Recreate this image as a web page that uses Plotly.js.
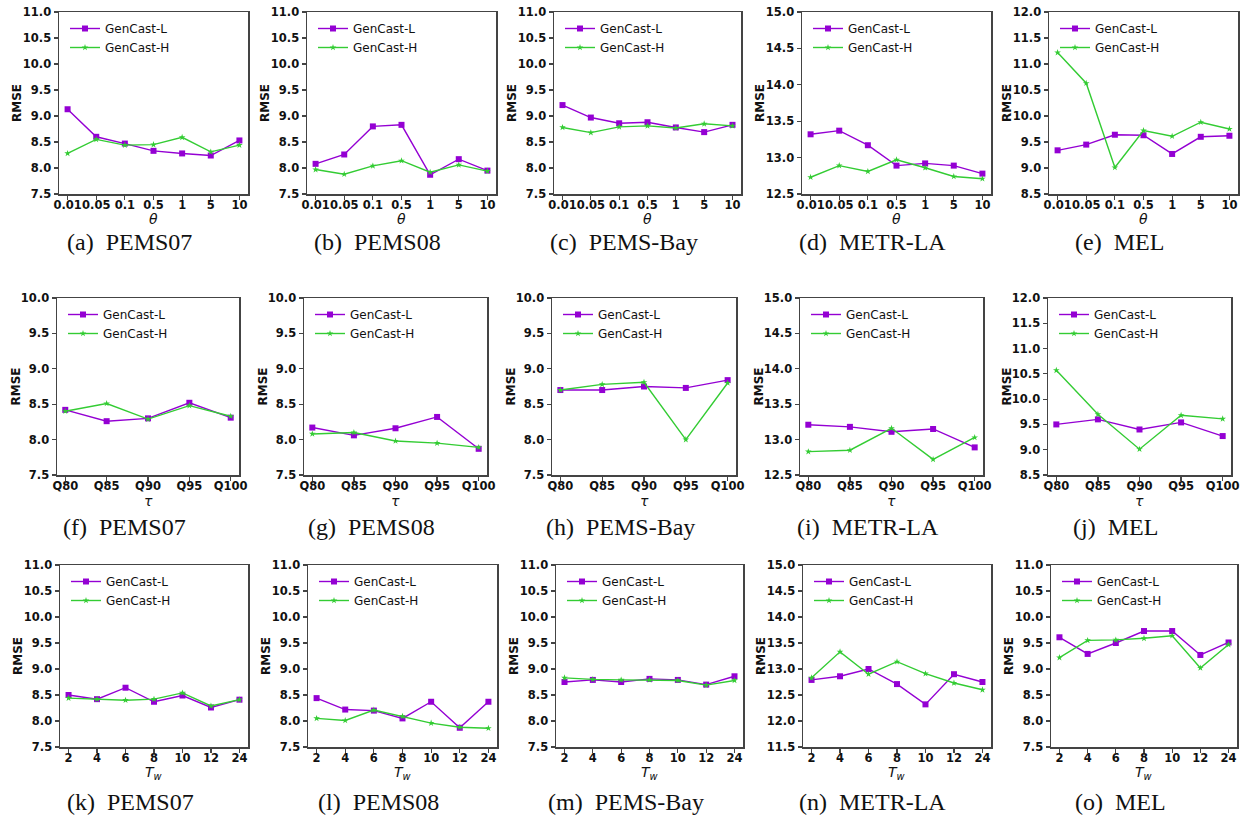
<!DOCTYPE html>
<html>
<head>
<meta charset="utf-8">
<script src="https://cdn.plot.ly/plotly-3.0.1.min.js"></script>
<style>body{margin:0;padding:0;background:#fff;} #chart{width:1246px;height:819px;}</style>
</head>
<body>
<div id="chart"></div>
<script>
// ---------- data ----------
const thetaLabels = ['0.01', '0.05', '0.1', '0.5', '1', '5', '10'];
const tauLabels = ['Q80', 'Q85', 'Q90', 'Q95', 'Q100'];
const twLabels = ['2', '4', '6', '8', '10', '12', '24'];
const datasets = ['PEMS07', 'PEMS08', 'PEMS-Bay', 'METR-LA', 'MEL'];
const seriesNames = ['GenCast-L', 'GenCast-H'];

// θ sensitivity
const thetaL_PEMS07 = [9.13, 8.60, 8.47, 8.33, 8.28, 8.24, 8.53];
const thetaH_PEMS07 = [8.28, 8.55, 8.44, 8.45, 8.59, 8.31, 8.44];
const thetaL_PEMS08 = [8.08, 8.26, 8.80, 8.83, 7.87, 8.17, 7.95];
const thetaH_PEMS08 = [7.97, 7.88, 8.04, 8.14, 7.92, 8.06, 7.94];
const thetaL_PEMSBay = [9.21, 8.97, 8.86, 8.88, 8.78, 8.69, 8.83];
const thetaH_PEMSBay = [8.78, 8.68, 8.79, 8.81, 8.77, 8.85, 8.81];
const thetaL_METRLA = [13.32, 13.37, 13.17, 12.89, 12.92, 12.89, 12.78];
const thetaH_METRLA = [12.73, 12.89, 12.81, 12.97, 12.86, 12.74, 12.71];
const thetaL_MEL = [9.34, 9.45, 9.64, 9.63, 9.27, 9.60, 9.62];
const thetaH_MEL = [11.22, 10.63, 9.01, 9.72, 9.61, 9.88, 9.75];

// τ sensitivity
const tauL_PEMS07 = [8.42, 8.26, 8.30, 8.52, 8.31];
const tauH_PEMS07 = [8.40, 8.51, 8.29, 8.48, 8.33];
const tauL_PEMS08 = [8.17, 8.06, 8.16, 8.32, 7.87];
const tauH_PEMS08 = [8.08, 8.10, 7.98, 7.95, 7.89];
const tauL_PEMSBay = [8.70, 8.70, 8.75, 8.73, 8.84];
const tauH_PEMSBay = [8.70, 8.78, 8.81, 8.00, 8.80];
const tauL_METRLA = [13.21, 13.18, 13.11, 13.15, 12.89];
const tauH_METRLA = [12.83, 12.85, 13.16, 12.72, 13.03];
const tauL_MEL = [9.50, 9.60, 9.40, 9.54, 9.27];
const tauH_MEL = [10.57, 9.70, 9.01, 9.68, 9.61];

// T_w sensitivity
const twL_PEMS07 = [8.50, 8.42, 8.64, 8.37, 8.49, 8.26, 8.41];
const twH_PEMS07 = [8.44, 8.42, 8.40, 8.42, 8.54, 8.29, 8.41];
const twL_PEMS08 = [8.44, 8.22, 8.20, 8.05, 8.37, 7.87, 8.37];
const twH_PEMS08 = [8.05, 8.01, 8.21, 8.09, 7.96, 7.88, 7.86];
const twL_PEMSBay = [8.75, 8.79, 8.75, 8.81, 8.79, 8.70, 8.86];
const twH_PEMSBay = [8.83, 8.80, 8.79, 8.79, 8.78, 8.69, 8.78];
const twL_METRLA = [12.79, 12.86, 13.00, 12.71, 12.32, 12.90, 12.75];
const twH_METRLA = [12.83, 13.33, 12.90, 13.14, 12.91, 12.73, 12.60];
const twL_MEL = [9.61, 9.29, 9.50, 9.73, 9.73, 9.27, 9.51];
const twH_MEL = [9.22, 9.55, 9.56, 9.59, 9.64, 9.02, 9.47];

// y-axis ranges per panel (row-major)
const yRanges = [
  [7.5, 11], [7.5, 11], [7.5, 11], [12.5, 15], [8.5, 12],
  [7.5, 10], [7.5, 10], [7.5, 10], [12.5, 15], [8.5, 12],
  [7.5, 11], [7.5, 11], [7.5, 11], [11.5, 15], [7.5, 11]
];
const letters = ['a','b','c','d','e','f','g','h','i','j','k','l','m','n','o'];
const yTitle = 'RMSE';
const xTitles = ['<i>θ</i>', '<i>τ</i>', '<i>T</i><sub><i>w</i></sub>'];

// ---------- layout geometry (pixels) ----------
const W = 1246, H = 819;
const rowBox = [[12, 194], [298, 475], [565, 747]];
const colBox = [
  [[59, 248], [307, 496], [554, 741], [802, 991], [1049, 1238]],
  [[57, 239], [304, 487], [552, 736], [800, 983], [1048, 1231]],
  [[60, 248], [308, 497], [556, 743], [803, 991], [1051, 1237]]
];
const captionY = [242, 527, 802];
const xTitleOffset = [25, 26, 26];

const rowData = [
  {labels: thetaLabels, L: [thetaL_PEMS07, thetaL_PEMS08, thetaL_PEMSBay, thetaL_METRLA, thetaL_MEL],
                        H: [thetaH_PEMS07, thetaH_PEMS08, thetaH_PEMSBay, thetaH_METRLA, thetaH_MEL]},
  {labels: tauLabels,   L: [tauL_PEMS07, tauL_PEMS08, tauL_PEMSBay, tauL_METRLA, tauL_MEL],
                        H: [tauH_PEMS07, tauH_PEMS08, tauH_PEMSBay, tauH_METRLA, tauH_MEL]},
  {labels: twLabels,    L: [twL_PEMS07, twL_PEMS08, twL_PEMSBay, twL_METRLA, twL_MEL],
                        H: [twH_PEMS07, twH_PEMS08, twH_PEMSBay, twH_METRLA, twH_MEL]}
];

const purple = '#9400d3';
const green = '#33cc33';
const tickFont = {family: 'DejaVu Sans', size: 11.5, weight: 700, color: '#111'};

const traces = [];
const layout = {
  width: W, height: H,
  margin: {l: 0, r: 0, t: 0, b: 0},
  paper_bgcolor: '#fff', plot_bgcolor: '#fff',
  showlegend: true,
  annotations: []
};

for (let r = 0; r < 3; r++) {
  for (let c = 0; c < 5; c++) {
    const k = r * 5 + c;
    const id = k === 0 ? '' : String(k + 1);
    const legId = k === 0 ? 'legend' : 'legend' + (k + 1);
    const labels = rowData[r].labels;
    const [x0, x1] = colBox[r][c];
    const [yt, yb] = rowBox[r];

    traces.push({
      type: 'scatter', mode: 'lines+markers', name: seriesNames[0],
      x: labels, y: rowData[r].L[c], xaxis: 'x' + id, yaxis: 'y' + id, legend: legId,
      line: {color: purple, width: 1.4},
      marker: {symbol: 'square', size: 6, color: purple}
    });
    traces.push({
      type: 'scatter', mode: 'lines+markers', name: seriesNames[1],
      x: labels, y: rowData[r].H[c], xaxis: 'x' + id, yaxis: 'y' + id, legend: legId,
      line: {color: green, width: 1.4},
      marker: {symbol: 'star', size: 5, color: green}
    });

    const n = labels.length;
    const pad = 0.05 * (n - 1);
    layout['xaxis' + id] = {
      domain: [x0 / W, x1 / W], anchor: 'y' + id, type: 'category',
      range: [-pad, n - 1 + pad], fixedrange: true, tickangle: 0,
      showline: true, mirror: true, linecolor: '#444', linewidth: 1.5,
      ticks: 'outside', ticklen: 4, tickwidth: 1.2, tickcolor: '#444',
      ticklabelstandoff: -4,
      showgrid: false, zeroline: false, tickfont: tickFont,
      automargin: false
    };
    layout['yaxis' + id] = {
      domain: [1 - yb / H, 1 - yt / H], anchor: 'x' + id,
      range: yRanges[k], dtick: 0.5, tick0: 0, tickformat: '.1f', fixedrange: true,
      showline: true, mirror: true, linecolor: '#444', linewidth: 1.5,
      ticks: 'outside', ticklen: 4, tickwidth: 1.2, tickcolor: '#444',
      showgrid: false, zeroline: false, tickfont: tickFont,
      automargin: false
    };
    layout[legId] = {
      x: (x0 + 6) / W, y: 1 - (yt + 2) / H, xanchor: 'left', yanchor: 'top',
      bgcolor: 'rgba(0,0,0,0)', borderwidth: 0,
      font: {family: 'DejaVu Sans', size: 12, color: '#111'},
      itemwidth: 30, tracegroupgap: 0
    };
    // y-axis title
    layout.annotations.push({
      xref: 'paper', yref: 'paper',
      x: (x0 - 42) / W, y: 1 - ((yt + yb) / 2) / H,
      xanchor: 'center', yanchor: 'middle', showarrow: false, textangle: -90,
      text: yTitle,
      font: {family: 'DejaVu Sans', size: 12, weight: 700, color: '#111'}
    });
    // x-axis title
    layout.annotations.push({
      xref: 'paper', yref: 'paper',
      x: ((x0 + x1) / 2) / W, y: 1 - (yb + xTitleOffset[r]) / H,
      xanchor: 'center', yanchor: 'middle', showarrow: false,
      text: xTitles[r],
      font: {family: 'DejaVu Sans', size: 14, color: '#111'}
    });
    // subfigure caption
    layout.annotations.push({
      xref: 'paper', yref: 'paper',
      x: ((x0 + x1) / 2 - 24) / W, y: 1 - captionY[r] / H,
      xanchor: 'center', yanchor: 'middle', showarrow: false,
      text: '(' + letters[k] + ')\u2002' + datasets[c],
      font: {family: 'Liberation Serif', size: 24, color: '#111'}
    });
  }
}

Plotly.newPlot('chart', traces, layout, {displayModeBar: false, staticPlot: true});
</script>
</body>
</html>
